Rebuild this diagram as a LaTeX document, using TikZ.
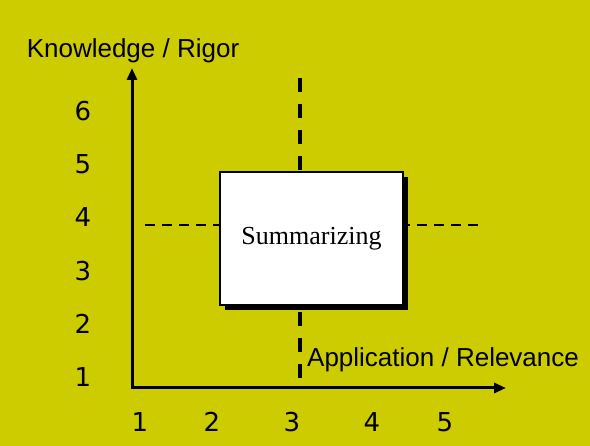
\documentclass[tikz,border=0pt]{standalone}
\usepackage{fontspec}
\setmainfont{Liberation Sans}
\newfontfamily\boxfont{Liberation Serif}
\newfontfamily\tickfont{DejaVu Sans}
\usetikzlibrary{arrows.meta,shadows}
\definecolor{bgyellow}{RGB}{204,204,0}
\tikzset{
  axis/.style={line width=3pt, >={Triangle[length=12pt,width=10pt]}},
  tick/.style={inner sep=0pt, font=\tickfont\fontsize{26}{30}\selectfont},
  axislabel/.style={inner sep=0pt, font=\fontsize{26}{30}\selectfont},
  quadbox/.style={draw, line width=1.5pt, fill=white, minimum width=183pt, minimum height=133pt,
    font=\boxfont\fontsize{26}{30}\selectfont,
    general shadow={fill=black, shadow xshift=5pt, shadow yshift=-5pt}}
}
\begin{document}
\begin{tikzpicture}[x=1pt,y=-1pt]
\fill[bgyellow] (0,0) rectangle (590,446);
\useasboundingbox (0,0) rectangle (590,446);

\coordinate (ytop) at (132,68);
\coordinate (origin) at (132,388);
\coordinate (xend) at (506,388);
\coordinate (vtop) at (300,78);
\coordinate (vbot) at (300,380);
\coordinate (hleft) at (145,225);
\coordinate (hright) at (485,225);

\draw [line width=4pt, dash pattern=on 14pt off 12pt] (vtop) -- (vbot);
\draw [line width=2pt, dash pattern=on 10pt off 7pt] (hleft) -- (hright);

\draw [axis, <->] (ytop) |- (xend);

\node [quadbox] (summ) at (311.5,238.5) {Summarizing};

\node [axislabel, anchor=base] (ylab) at (133,58) {Knowledge / Rigor};
\node [axislabel, anchor=base west] (xlab) at (307,367) {Application / Relevance};

\foreach \n in {1,...,6}
  \node [tick] (y\n) at (83,377-53.2*\n+53.2) {\n};
\foreach \x/\n in {140/1,212/2,292/3,372/4,445/5}
  \node [tick] (x\n) at (\x,422) {\n};
\end{tikzpicture}
\end{document}
